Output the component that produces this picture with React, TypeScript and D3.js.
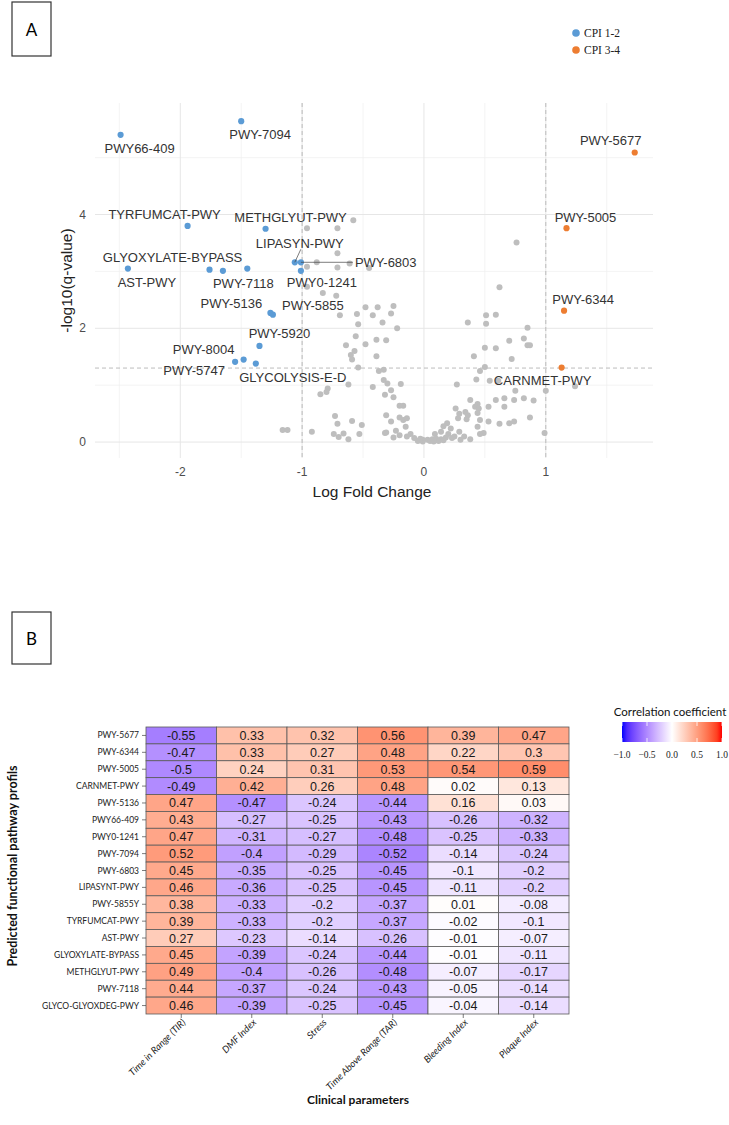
import React from "react";
import * as d3 from "d3";

// ---------- Panel A data ----------
const greyPoints: [number, number][] = [
  [-0.58, 3.9], [-0.96, 3.76], [-0.71, 3.76], [-0.71, 3.32], [-0.96, 3.08], [-0.88, 3.16], [-0.61, 3.14],
  [-0.71, 3.07], [-0.45, 3.06], [-0.96, 2.73], [-0.83, 2.62], [-0.72, 2.57], [-0.48, 2.37], [-0.38, 2.37],
  [-0.25, 2.39], [-0.69, 2.23], [-0.42, 2.23], [-0.55, 2.25], [-0.34, 2.1], [-0.54, 2.07], [-0.22, 2.0],
  [-0.27, 2.26], [0.62, 2.72], [0.76, 3.51], [0.51, 2.23], [0.59, 2.24], [0.36, 2.1], [0.51, 2.08], [0.85, 2.01],
  [-0.31, 1.79], [0.82, 1.82], [0.7, 1.78], [0.5, 1.66], [0.59, 1.65], [0.85, 1.7], [0.87, 1.7], [0.41, 1.51],
  [0.72, 1.46], [0.5, 1.32], [0.46, 1.25], [0.43, 1.1], [0.54, 1.08], [0.61, 1.08], [0.27, 1.01],
  [-0.33, 1.27], [-0.33, 1.09], [-0.3, 1.03], [-0.19, 1.02], [-0.27, 0.91], [-0.32, 0.83], [-0.25, 0.79],
  [-0.2, 0.64], [-0.17, 0.64], [0.38, 0.74], [0.44, 0.67], [0.42, 0.62], [0.45, 0.59], [0.53, 0.62],
  [0.59, 0.74], [0.66, 0.77], [0.74, 0.74], [0.82, 0.77], [0.9, 0.73], [0.66, 0.62], [0.75, 0.9], [1.0, 0.9],
  [1.24, 0.98], [-0.31, 0.47], [-0.2, 0.43], [-0.17, 0.39], [-0.14, 0.42], [-0.15, 0.27], [-0.23, 0.2],
  [-0.32, 0.16], [-0.25, 0.08], [0.26, 0.59], [0.29, 0.5], [0.34, 0.53], [0.36, 0.47], [0.35, 0.4], [0.28, 0.42],
  [0.44, 0.51], [0.46, 0.39], [0.44, 0.27], [0.53, 0.36], [0.62, 0.32], [0.7, 0.33], [0.74, 0.36], [0.87, 0.43],
  [0.19, 0.33], [0.16, 0.28], [0.22, 0.24], [0.14, 0.18], [0.09, 0.14], [0.2, 0.14], [0.29, 0.18], [0.23, 0.07],
  [0.3, 0.04], [0.38, 0.05], [0.49, 0.16], [0.46, 0.14], [0.99, 0.16], [0.03, 0.04], [-0.01, 0.01], [0.07, 0.05],
  [0.14, 0.05], [0.18, 0.08], [-0.64, 1.7], [-0.48, 1.72], [-0.39, 1.8], [-0.56, 1.86], [-0.57, 1.6],
  [-0.6, 1.53], [-0.59, 1.45], [-0.39, 1.51], [-0.54, 1.31], [-0.37, 1.25], [-0.62, 1.01], [-0.42, 0.97],
  [-0.79, 0.94], [-0.8, 0.88], [-0.85, 0.84], [-0.73, 0.46], [-0.59, 0.37], [-0.71, 0.32], [-0.51, 0.3],
  [-1.16, 0.21], [-1.12, 0.21], [-0.92, 0.18], [-0.74, 0.14], [-0.7, 0.09], [-0.66, 0.15], [-0.62, 0.05],
  [-0.53, 0.14], [-0.31, 0.17], [-0.27, 0.36], [-0.11, 0.14], [-0.08, 0.07], [-0.01, 0.04], [-0.05, 0.02],
  [0.05, 0.02], [0.1, 0.06], [0.12, 0.02], [-0.03, 0.06], [0.08, 0.01], [0.16, 0.03], [0.25, 0.1], [0.33, 0.1],
  [-0.14, 0.1], [-0.2, 0.12],
];

const sigNames = [
  "PWY66-409", "PWY-7094", "TYRFUMCAT-PWY", "METHGLYUT-PWY", "LIPASYN-PWY", "PWY-6803", "PWY0-1241",
  "AST-PWY", "GLYOXYLATE-BYPASS", "GLYCO-GLYOXDEG-PWY", "PWY-7118", "PWY-5136", "PWY-5855", "PWY-5920",
  "PWY-8004", "PWY-5747", "GLYCOLYSIS-E-D", "PWY-5677", "PWY-5005", "PWY-6344", "CARNMET-PWY",
];
const sigLogFC = [
  -2.49, -1.5, -1.94, -1.3, -1.06, -1.01, -1.01, -2.43, -1.76, -1.65, -1.45, -1.26, -1.24, -1.35, -1.48,
  -1.55, -1.38, 1.73, 1.17, 1.15, 1.13,
];
const sigNegLogQ = [
  5.4, 5.64, 3.8, 3.75, 3.16, 3.16, 3.01, 3.05, 3.03, 3.01, 3.05, 2.27, 2.24, 1.69, 1.45, 1.41, 1.38, 5.09,
  3.76, 2.31, 1.31,
];
const sigGroup = [
  "CPI 1-2", "CPI 1-2", "CPI 1-2", "CPI 1-2", "CPI 1-2", "CPI 1-2", "CPI 1-2", "CPI 1-2", "CPI 1-2",
  "CPI 1-2", "CPI 1-2", "CPI 1-2", "CPI 1-2", "CPI 1-2", "CPI 1-2", "CPI 1-2", "CPI 1-2", "CPI 3-4",
  "CPI 3-4", "CPI 3-4", "CPI 3-4",
];
const groups = ["CPI 1-2", "CPI 3-4"];
const xTicks = [-2, -1, 0, 1];
const xMinor = [-2.5, -1.5, -0.5, 0.5, 1.5];
const yTicks = [0, 2, 4];
const yMinor = [1, 3, 5];
const qThreshold = -Math.log10(0.05);
const fcThresholds = [-1, 1];

// label placement (pixel offsets from point, like ggrepel result)
const labelLayout: Record<string, { dx: number; dy: number; anchor?: string; seg?: [number, number] }> = {
  "PWY66-409": { dx: 19, dy: 14 },
  "PWY-7094": { dx: 19, dy: 13 },
  "TYRFUMCAT-PWY": { dx: -23, dy: -11 },
  "METHGLYUT-PWY": { dx: 25, dy: -11 },
  "LIPASYN-PWY": { dx: 5, dy: -19, seg: [6, -13] },
  "PWY-6803": { dx: 54, dy: 0, anchor: "start", seg: [52, 0] },
  "PWY0-1241": { dx: 21, dy: 12 },
  "AST-PWY": { dx: 19, dy: 14 },
  "GLYOXYLATE-BYPASS": { dx: -37, dy: -12 },
  "PWY-7118": { dx: -4, dy: 15 },
  "PWY-5136": { dx: -39, dy: -9 },
  "PWY-5855": { dx: 40, dy: -9 },
  "PWY-5920": { dx: 20, dy: -12 },
  "PWY-8004": { dx: -40, dy: -10 },
  "PWY-5747": { dx: -41, dy: 9 },
  "GLYCOLYSIS-E-D": { dx: 37, dy: 14 },
  "PWY-5677": { dx: -24, dy: -12 },
  "PWY-5005": { dx: 19, dy: -11 },
  "PWY-6344": { dx: 19, dy: -11 },
  "CARNMET-PWY": { dx: -19, dy: 13 },
};

// ---------- Panel B data ----------
const rowNames = [
  "PWY-5677", "PWY-6344", "PWY-5005", "CARNMET-PWY", "PWY-5136", "PWY66-409", "PWY0-1241", "PWY-7094",
  "PWY-6803", "LIPASYNT-PWY", "PWY-5855Y", "TYRFUMCAT-PWY", "AST-PWY", "GLYOXYLATE-BYPASS",
  "METHGLYUT-PWY", "PWY-7118", "GLYCO-GLYOXDEG-PWY",
];
const colNames = [
  "Time in Range (TIR)", "DMF Index", "Stress", "Time Above Range (TAR)", "Bleeding Index", "Plaque Index",
];
const corrValues: number[][] = [
  [-0.55, 0.33, 0.32, 0.56, 0.39, 0.47],
  [-0.47, 0.33, 0.27, 0.48, 0.22, 0.3],
  [-0.5, 0.24, 0.31, 0.53, 0.54, 0.59],
  [-0.49, 0.42, 0.26, 0.48, 0.02, 0.13],
  [0.47, -0.47, -0.24, -0.44, 0.16, 0.03],
  [0.43, -0.27, -0.25, -0.43, -0.26, -0.32],
  [0.47, -0.31, -0.27, -0.48, -0.25, -0.33],
  [0.52, -0.4, -0.29, -0.52, -0.14, -0.24],
  [0.45, -0.35, -0.25, -0.45, -0.1, -0.2],
  [0.46, -0.36, -0.25, -0.45, -0.11, -0.2],
  [0.38, -0.33, -0.2, -0.37, 0.01, -0.08],
  [0.39, -0.33, -0.2, -0.37, -0.02, -0.1],
  [0.27, -0.23, -0.14, -0.26, -0.01, -0.07],
  [0.45, -0.39, -0.24, -0.44, -0.01, -0.11],
  [0.49, -0.4, -0.26, -0.48, -0.07, -0.17],
  [0.44, -0.37, -0.24, -0.43, -0.05, -0.14],
  [0.46, -0.39, -0.25, -0.45, -0.04, -0.14],
];
const legendTicks = [-1, -0.5, 0, 0.5, 1];

const SANS = "'Liberation Sans', Arial, sans-serif";
const CAL = "Lato, 'Open Sans', sans-serif";
const NARROW = "'Liberation Sans Narrow', 'Arial Narrow', Lato, sans-serif";
const SERIF = "'Liberation Serif', 'Times New Roman', serif";

const groupColor = d3.scaleOrdinal<string, string>().domain(groups).range(["#5B9BD5", "#ED7D31"]);
const corrColor = (v: number) =>
  v < 0 ? d3.interpolateLab("#FFFFFF", "#0000FF")(-v) : d3.interpolateLab("#FFFFFF", "#FF0000")(v);

export default function App() {
  const W = 729, H = 1125;
  // Panel A scales
  const x = d3.scaleLinear().domain([-2.7, 1.88]).range([95, 653]);
  const y = d3.scaleLinear().domain([-0.28, 5.96]).range([458, 103]);
  const [px0, px1] = x.range();
  const [py0, py1] = y.range();

  // Panel B scales
  const hx = d3.scaleBand<string>().domain(colNames).range([146, 569]);
  const hy = d3.scaleBand<string>().domain(rowNames).range([727, 1014]);
  const hBottom = hy.range()[1];
  const lg = d3.scaleLinear().domain([-1, 1]).range([622, 722]);
  const gradStops = d3.range(0, 21).map((i) => -1 + i * 0.1);

  const sig = sigNames.map((n, i) => ({ name: n, lfc: sigLogFC[i], q: sigNegLogQ[i], group: sigGroup[i] }));

  return (
    <svg width={W} height={H} style={{ position: "absolute", left: 0, top: 0, background: "#fff" }}>
      <rect x={0} y={0} width={W} height={H} fill="#fff" />
      {/* Box A */}
      <rect x={12} y={2} width={39} height={54} fill="none" stroke="#333" strokeWidth={1.2} />
      <text x={31.5} y={29} textAnchor="middle" dominantBaseline="central" fontFamily={CAL} fontSize={17}>A</text>

      {/* grid */}
      {xMinor.map((t) => (
        <line key={"xm" + t} x1={x(t)} x2={x(t)} y1={py1} y2={py0} stroke="#EFEFEF" strokeWidth={0.7} />
      ))}
      {yMinor.map((t) => (
        <line key={"ym" + t} x1={px0} x2={px1} y1={y(t)} y2={y(t)} stroke="#EFEFEF" strokeWidth={0.7} />
      ))}
      {xTicks.map((t) => (
        <line key={"xg" + t} x1={x(t)} x2={x(t)} y1={py1} y2={py0} stroke="#E6E6E6" strokeWidth={1} />
      ))}
      {yTicks.map((t) => (
        <line key={"yg" + t} x1={px0} x2={px1} y1={y(t)} y2={y(t)} stroke="#E6E6E6" strokeWidth={1} />
      ))}
      {/* thresholds */}
      {fcThresholds.map((t) => (
        <line key={"th" + t} x1={x(t)} x2={x(t)} y1={py1} y2={py0} stroke="#B5B5B5" strokeWidth={0.9} strokeDasharray="4,3" />
      ))}
      <line x1={px0} x2={px1} y1={y(qThreshold)} y2={y(qThreshold)} stroke="#B5B5B5" strokeWidth={0.9} strokeDasharray="4,3" />

      {/* tick labels */}
      {xTicks.map((t) => (
        <text key={"xt" + t} x={x(t)} y={472} textAnchor="middle" dominantBaseline="central" fontFamily={SANS} fontSize={12} fill="#4D4D4D">{t}</text>
      ))}
      {yTicks.map((t) => (
        <text key={"yt" + t} x={86} y={y(t)} textAnchor="end" dominantBaseline="central" fontFamily={SANS} fontSize={12} fill="#4D4D4D">{t}</text>
      ))}
      <text x={372} y={491} textAnchor="middle" dominantBaseline="central" fontFamily={SANS} fontSize={15.5} fill="#222">Log Fold Change</text>
      <text transform={`translate(66,${(py0 + py1) / 2}) rotate(-90)`} textAnchor="middle" dominantBaseline="central" fontFamily={SANS} fontSize={15.5} fill="#222">-log10(q-value)</text>

      {/* points */}
      {greyPoints.map((p, i) => (
        <circle key={"g" + i} cx={x(p[0])} cy={y(p[1])} r={3} fill="#BEBEBE" />
      ))}
      {sig.map((d) => (
        <circle key={"s" + d.name} cx={x(d.lfc)} cy={y(d.q)} r={3.1} fill={groupColor(d.group)} />
      ))}
      {sig.map((d) => {
        const L = labelLayout[d.name];
        if (!L) return null;
        const cx = x(d.lfc), cy = y(d.q);
        return (
          <g key={"l" + d.name}>
            {L.seg && <line x1={cx} y1={cy} x2={cx + L.seg[0]} y2={cy + L.seg[1]} stroke="#444" strokeWidth={0.7} />}
            <text x={cx + L.dx} y={cy + L.dy} textAnchor={L.anchor || "middle"} dominantBaseline="central" fontFamily={SANS} fontSize={13} fill="#333">{d.name}</text>
          </g>
        );
      })}

      {/* legend A */}
      {groups.map((g, i) => (
        <g key={"lg" + g}>
          <circle cx={576} cy={33 + i * 17} r={3.8} fill={groupColor(g)} />
          <text x={584} y={33 + i * 17} dominantBaseline="central" fontFamily={SERIF} fontSize={11.5} fill="#222">{g}</text>
        </g>
      ))}

      {/* Box B */}
      <rect x={12} y={612} width={39} height={52} fill="none" stroke="#333" strokeWidth={1.2} />
      <text x={31.5} y={638} textAnchor="middle" dominantBaseline="central" fontFamily={CAL} fontSize={17}>B</text>

      {/* heatmap */}
      {rowNames.map((r, i) =>
        colNames.map((c, j) => {
          const v = corrValues[i][j];
          return (
            <g key={r + c}>
              <rect x={hx(c)} y={hy(r)} width={hx.bandwidth()} height={hy.bandwidth()} fill={corrColor(v)} stroke="#5A5A5A" strokeWidth={0.8} />
              <text x={(hx(c) as number) + hx.bandwidth() / 2} y={(hy(r) as number) + hy.bandwidth() / 2 + 0.5} textAnchor="middle" dominantBaseline="central" fontFamily={SANS} fontSize={12.5} fill="#1A1A1A">{String(v)}</text>
            </g>
          );
        })
      )}
      {rowNames.map((r) => {
        const cy = (hy(r) as number) + hy.bandwidth() / 2;
        return (
          <g key={"rl" + r}>
            <line x1={142} x2={146} y1={cy} y2={cy} stroke="#444" strokeWidth={0.7} />
            <text x={139} y={cy} textAnchor="end" dominantBaseline="central" fontFamily={NARROW} fontSize={8.5} fill="#222">{r}</text>
          </g>
        );
      })}
      {colNames.map((c) => {
        const cx = (hx(c) as number) + hx.bandwidth() / 2;
        return (
          <g key={"cl" + c}>
            <line x1={cx} x2={cx} y1={hBottom} y2={hBottom + 4} stroke="#444" strokeWidth={0.7} />
            <text transform={`translate(${cx + 5},${hBottom + 9}) rotate(-45)`} textAnchor="end" fontFamily={CAL} fontStyle="italic" fontSize={9.5} fill="#222">{c}</text>
          </g>
        );
      })}
      <text transform={`translate(12,866) rotate(-90)`} textAnchor="middle" dominantBaseline="central" fontFamily={CAL} fontWeight="bold" fontSize={12.5} fill="#111">Predicted functional pathway profils</text>
      <text x={358} y={1099} textAnchor="middle" dominantBaseline="central" fontFamily={CAL} fontWeight="bold" fontSize={12} fill="#111">Clinical parameters</text>

      {/* colorbar */}
      <defs>
        <linearGradient id="cbar" x1="0" x2="1" y1="0" y2="0">
          {gradStops.map((v) => (
            <stop key={"st" + v} offset={`${((v + 1) / 2) * 100}%`} stopColor={corrColor(Math.max(-1, Math.min(1, v)))} />
          ))}
        </linearGradient>
      </defs>
      <text x={670} y={711} textAnchor="middle" dominantBaseline="central" fontFamily={CAL} fontSize={11.5} fill="#111">Correlation coefficient</text>
      <rect x={lg(-1)} y={722} width={lg(1) - lg(-1)} height={20} fill="url(#cbar)" />
      {legendTicks.map((t) => (
        <g key={"ct" + t}>
          <line x1={lg(t)} x2={lg(t)} y1={722} y2={726} stroke="#fff" strokeWidth={0.8} />
          <line x1={lg(t)} x2={lg(t)} y1={738} y2={742} stroke="#fff" strokeWidth={0.8} />
          <text x={lg(t)} y={755} textAnchor="middle" dominantBaseline="central" fontFamily={SERIF} fontSize={9.5} fill="#222">{d3.format(".1f")(t)}</text>
        </g>
      ))}
    </svg>
  );
}
